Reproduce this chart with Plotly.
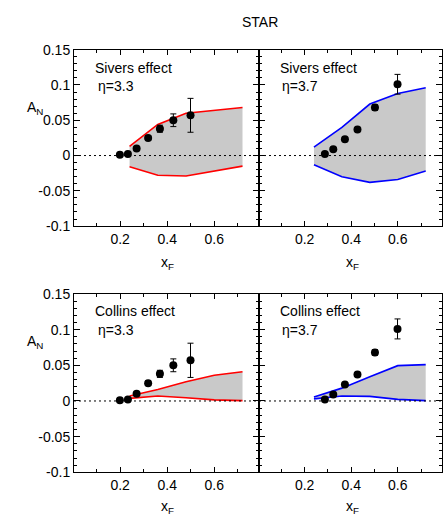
import plotly.graph_objects as go

W, H = 443, 522

# STAR forward-pion data (x_F, A_N, stat. error) at two pseudorapidities
xf_33 = [0.199, 0.233, 0.270, 0.319, 0.369, 0.426, 0.499]
an_33 = [0.001, 0.002, 0.010, 0.025, 0.038, 0.050, 0.057]
er_33 = [0.002, 0.002, 0.002, 0.003, 0.005, 0.009, 0.024]

xf_37 = [0.287, 0.323, 0.373, 0.427, 0.502, 0.599]
an_37 = [0.002, 0.009, 0.023, 0.037, 0.068, 0.101]
er_37 = [0.002, 0.002, 0.002, 0.002, 0.004, 0.014]

# model uncertainty bands (upper / lower edge)
band_x4 = [0.24, 0.36, 0.48, 0.72]
band_x5 = [0.24, 0.36, 0.48, 0.60, 0.72]

siv33_up = [0.013, 0.044, 0.060, 0.068]
siv33_lo = [-0.016, -0.028, -0.029, -0.015]
siv37_up = [0.012, 0.040, 0.073, 0.088, 0.096]
siv37_lo = [-0.013, -0.030, -0.038, -0.034, -0.022]
col33_up = [0.007, 0.016, 0.027, 0.036, 0.041]
col33_lo = [0.0037, 0.007, 0.0045, 0.0015, 0.0005]
col37_up = [0.0055, 0.018, 0.034, 0.0495, 0.051]
col37_lo = [0.003, 0.007, 0.0064, 0.0023, 0.0005]

y_tickvals = [-0.1, -0.05, 0, 0.05, 0.1, 0.15]
y_ticktext = ["-0.1", "-0.05", "0", "0.05", "0.1", "0.15"]
x_tickvals = [0.2, 0.4, 0.6]
x_ticktext = ["0.2", "0.4", "0.6"]

FONT = "Liberation Sans, Arial, sans-serif"
FILL = "#c9c9c9"
RED = "#ff0000"
BLUE = "#0000ff"

panels = [
    # (axis suffix, band x, upper, lower, colour, data, label, eta)
    ("", band_x4, siv33_up, siv33_lo, RED, (xf_33, an_33, er_33), "Sivers effect", "η=3.3"),
    ("2", band_x5, siv37_up, siv37_lo, BLUE, (xf_37, an_37, er_37), "Sivers effect", "η=3.7"),
    ("3", band_x5, col33_up, col33_lo, RED, (xf_33, an_33, er_33), "Collins effect", "η=3.3"),
    ("4", band_x5, col37_up, col37_lo, BLUE, (xf_37, an_37, er_37), "Collins effect", "η=3.7"),
]

fig = go.Figure()

for suf, bx, up, lo, col, (dx, dy, de), lab, eta in panels:
    xa, ya = "x" + suf, "y" + suf
    # shaded band
    fig.add_trace(go.Scatter(
        x=bx + bx[::-1], y=up + lo[::-1], xaxis=xa, yaxis=ya,
        mode="lines", fill="toself", fillcolor=FILL,
        line=dict(width=0, color=FILL), showlegend=False, hoverinfo="skip"))
    # band edges
    for edge in (up, lo):
        fig.add_trace(go.Scatter(
            x=bx, y=edge, xaxis=xa, yaxis=ya, mode="lines",
            line=dict(color=col, width=1.6), showlegend=False))
    # data points
    fig.add_trace(go.Scatter(
        x=dx, y=dy, xaxis=xa, yaxis=ya, mode="markers",
        marker=dict(color="black", size=8),
        error_y=dict(type="data", array=de, color="black", thickness=1, width=3),
        showlegend=False))
    # dotted zero line
    fig.add_shape(type="line", xref=xa + " domain", yref=ya,
                  x0=0, x1=1, y0=0, y1=0,
                  line=dict(color="black", width=1, dash="2px,3px"))

# panel geometry in pixels
xl = [74, 259]
xr = [259, 442]
yt = [43, 295]
yb = [225, 479]

def px_x(p):
    return p / W

def px_y(p):
    return 1 - p / H

axis_common = dict(showline=True, linecolor="black", linewidth=1, mirror="ticks",
                   ticks="inside", tickcolor="black", tickwidth=1,
                   showgrid=False, zeroline=False,
                   tickfont=dict(family=FONT, size=14, color="black"))

layout = dict(width=W, height=H, margin=dict(l=0, r=0, t=0, b=0),
              paper_bgcolor="white", plot_bgcolor="white", showlegend=False)

for i, suf in enumerate(["", "2", "3", "4"]):
    col = i % 2
    row = i // 2
    xkey = "xaxis" + suf
    ykey = "yaxis" + suf
    layout[xkey] = dict(
        domain=[px_x(xl[col]), px_x(xr[col])], range=[0.004, 0.79],
        anchor="y" + suf, tickvals=x_tickvals, ticktext=x_ticktext, ticklen=5,
        minor=dict(tickvals=[0.1, 0.3, 0.5, 0.7], ticks="inside", ticklen=3,
                   tickcolor="black", tickwidth=1),
        **axis_common)
    layout[ykey] = dict(
        domain=[px_y(yb[row]), px_y(yt[row])], range=[-0.1, 0.15],
        anchor="x" + suf, tickvals=y_tickvals, ticktext=y_ticktext, ticklen=6,
        showticklabels=(col == 0),
        minor=dict(dtick=0.01, ticks="inside", ticklen=3,
                   tickcolor="black", tickwidth=1),
        **axis_common)

fig.update_layout(**layout)

tf = dict(family=FONT, size=14, color="black")
ann = []
# panel labels
label_pos = [(93, 62, 96, 80), (278, 62, 280, 80), (93, 313, 96, 332), (278, 313, 280, 332)]
for (lx, ly, ex, ey), p in zip(label_pos, panels):
    ann.append(dict(x=px_x(lx), y=px_y(ly), xref="paper", yref="paper", text=p[6],
                    showarrow=False, xanchor="left", yanchor="middle", font=tf))
    ann.append(dict(x=px_x(ex), y=px_y(ey), xref="paper", yref="paper", text=p[7],
                    showarrow=False, xanchor="left", yanchor="middle", font=tf))
# axis titles
for cx in (167, 352):
    for cy in (263, 515):
        ann.append(dict(x=px_x(cx), y=px_y(cy), xref="paper", yref="paper",
                        text="x<sub>F</sub>", showarrow=False,
                        xanchor="center", yanchor="middle", font=tf))
for cy in (103, 345):
    ann.append(dict(x=px_x(35), y=px_y(cy), xref="paper", yref="paper",
                    text="A<sub>N</sub>", showarrow=False,
                    xanchor="center", yanchor="middle", font=tf))
# title
ann.append(dict(x=px_x(260), y=px_y(14), xref="paper", yref="paper", text="STAR",
                showarrow=False, xanchor="center", yanchor="middle", font=tf))

fig.update_layout(annotations=ann)
fig.write_html("out.html")
